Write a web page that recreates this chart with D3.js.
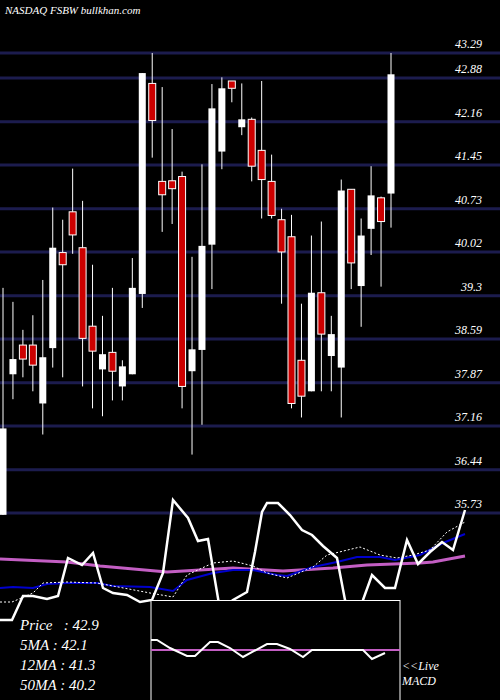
<!DOCTYPE html>
<html>
<head>
<meta charset="utf-8">
<script src="https://cdn.jsdelivr.net/npm/d3@7"></script>
<style>
  body { margin: 0; background: #000; }
  text { font-family: "Liberation Serif", "DejaVu Serif", serif; font-style: italic; fill: #fff; }
</style>
</head>
<body>
<svg id="chart" width="500" height="700"></svg>
<script>
// price candles (open, high, low, close)
var opens  = [35.70,38.01,38.49,38.49,37.53,38.44,40.01,40.68,40.09,38.80,38.09,38.37,37.81,38.01,39.33,42.79,41.18,41.19,41.26,38.06,38.41,40.14,41.67,42.83,42.07,42.20,41.69,41.18,40.55,40.27,38.24,37.73,39.35,38.31,38.12,41.05,39.46,40.40,40.91,40.98];
var highs  = [39.43,39.20,38.74,38.98,39.56,40.75,40.55,41.39,40.86,39.81,38.97,39.43,38.24,39.92,42.96,43.29,42.73,42.04,41.34,39.94,41.46,42.78,42.89,42.83,42.79,42.23,42.83,41.62,40.73,40.63,39.17,40.29,40.52,38.97,41.21,41.05,40.57,41.43,40.93,43.29];
var lows   = [35.70,37.60,37.96,37.73,37.02,38.12,37.96,39.99,37.81,37.45,37.32,37.58,37.58,38.01,39.10,41.57,40.35,40.48,37.45,36.69,37.18,39.41,41.38,42.48,41.94,41.18,40.57,40.57,39.17,37.45,37.30,37.73,37.73,37.73,37.30,39.41,38.79,39.97,39.45,40.42];
var closes = [37.12,38.26,38.26,38.16,38.29,40.09,39.81,40.30,38.60,38.39,38.34,38.06,38.14,39.43,42.96,42.18,40.96,41.06,37.81,38.42,40.12,42.38,42.71,42.71,42.20,41.43,41.21,40.62,40.02,37.53,37.65,39.35,38.67,38.67,41.03,39.84,40.29,40.95,40.52,42.94];
var tickLabels = [43.29,42.88,42.16,41.45,40.73,40.02,39.3,38.59,37.87,37.16,36.44,35.73];

// indicator panel lines [x position, level]
var volLine = [[0,-20],[12,-20],[23,4],[33,4],[47,1],[58,4],[68,42],[82,35],[93,47],[103,12],[113,7],[127,5],[140,-2],[152,0],[163,27],[173,100],[188,82],[198,59],[208,61],[220,-10],[233,0],[247,8],[255,48],[262,88],[267,97],[278,97],[290,85],[302,70],[312,65],[323,54],[337,42],[345,0],[352,-20],[363,0],[372,25],[385,12],[395,12],[407,60],[418,36],[430,48],[442,58],[453,50],[465,90]];
var ma5Line = [[0,-2],[12,-2],[33,7],[43,17],[67,18],[97,17],[150,7],[173,3],[187,25],[213,37],[233,39],[253,34],[267,27],[287,22],[313,33],[327,45],[360,53],[380,45],[397,42],[413,45],[430,50],[447,68],[465,78]];
var ma12Line = [[0,12],[13,13],[33,12],[47,16],[67,17],[97,17],[113,14],[150,13],[173,9],[187,20],[213,27],[233,30],[253,30],[277,25],[287,24],[313,33],[337,38],[357,43],[380,43],[395,40],[420,45],[443,57],[465,66]];
var ma50Line = [[0,41],[67,38],[100,34],[167,28],[233,32],[283,29],[333,32],[367,35],[420,37],[433,38],[465,44]];
var macdLine = [[151,1.0],[157,1.0],[170,0.2],[187,-0.6],[195,-0.6],[210,0.8],[218,0.8],[230,0.2],[243,-0.7],[267,0.6],[277,0.6],[290,0.1],[303,-0.7],[312,0],[363,0],[372,-0.9],[385,-0.3]];
var legendLabels = ["Price   : 42.9","5MA : 42.1","12MA : 41.3","50MA : 40.2"];

var svg = d3.select("#chart");
svg.append("rect").attr("width", 500).attr("height", 700).attr("fill", "#000");

var y = d3.scaleLinear().domain([35.73, 43.29]).range([513, 53]);
var x = d3.scaleLinear().domain([0, 39]).range([3, 391]);
var yi = d3.scaleLinear().domain([0, 100]).range([600, 500]);
var ym = d3.scaleLinear().domain([-1, 1]).range([660, 640]);

// grid lines
svg.selectAll(".grid").data(tickLabels).enter().append("line")
    .attr("x1", 0).attr("x2", 500)
    .attr("y1", function (d) { return y(d); }).attr("y2", function (d) { return y(d); })
    .attr("stroke", "#1c1c4e").attr("stroke-width", 3);

svg.selectAll(".tick").data(tickLabels).enter().append("text")
    .attr("x", 482).attr("y", function (d) { return y(d) - 5; })
    .attr("text-anchor", "end").attr("font-size", 12)
    .text(function (d) { return d; });

svg.append("text").attr("x", 5).attr("y", 14).attr("font-size", 11)
    .attr("font-style", "normal").text("NASDAQ FSBW bullkhan.com");

// candles
var idx = d3.range(opens.length);
svg.selectAll(".wick").data(idx).enter().append("line")
    .attr("x1", function (i) { return x(i); }).attr("x2", function (i) { return x(i); })
    .attr("y1", function (i) { return y(highs[i]); }).attr("y2", function (i) { return y(lows[i]); })
    .attr("stroke", "#fff").attr("stroke-width", 1);

svg.selectAll(".body").data(idx).enter().append("rect")
    .attr("x", function (i) { return x(i) - 3.5; })
    .attr("width", 7)
    .attr("y", function (i) { return y(Math.max(opens[i], closes[i])); })
    .attr("height", function (i) { return Math.max(1, Math.abs(y(opens[i]) - y(closes[i]))); })
    .attr("fill", function (i) { return closes[i] >= opens[i] ? "#fff" : "#cc0000"; })
    .attr("stroke", "#fff").attr("stroke-width", function (i) { return closes[i] >= opens[i] ? 0 : 1; });

// indicator lines
var line = d3.line().x(function (d) { return d[0]; }).y(function (d) { return yi(d[1]); });
svg.append("path").attr("d", line(ma50Line)).attr("fill", "none").attr("stroke", "#c35ec3").attr("stroke-width", 3);
svg.append("path").attr("d", line(ma12Line)).attr("fill", "none").attr("stroke", "#0000cc").attr("stroke-width", 2);
svg.append("path").attr("d", line(ma5Line)).attr("fill", "none").attr("stroke", "#fff").attr("stroke-width", 1).attr("stroke-dasharray", "2,2");
svg.append("path").attr("d", line(volLine)).attr("fill", "none").attr("stroke", "#fff").attr("stroke-width", 2.5);

// MACD box
svg.append("rect").attr("x", 151).attr("y", 600.5).attr("width", 249).attr("height", 110)
    .attr("fill", "#000").attr("stroke", "#fff").attr("stroke-width", 1);
svg.append("line").attr("x1", 151).attr("x2", 400).attr("y1", ym(0)).attr("y2", ym(0))
    .attr("stroke", "#c35ec3").attr("stroke-width", 2);
var mline = d3.line().x(function (d) { return d[0]; }).y(function (d) { return ym(d[1]); });
svg.append("path").attr("d", mline(macdLine)).attr("fill", "none").attr("stroke", "#fff").attr("stroke-width", 2);

svg.selectAll(".legend").data(legendLabels).enter().append("text")
    .attr("x", 20).attr("y", function (d, i) { return 630 + i * 20; })
    .attr("font-size", 15).attr("xml:space", "preserve")
    .text(function (d) { return d; });

svg.append("text").attr("x", 402).attr("y", 670).attr("font-size", 12).text("<<Live");
svg.append("text").attr("x", 402).attr("y", 685).attr("font-size", 12).text("MACD");
</script>
</body>
</html>
